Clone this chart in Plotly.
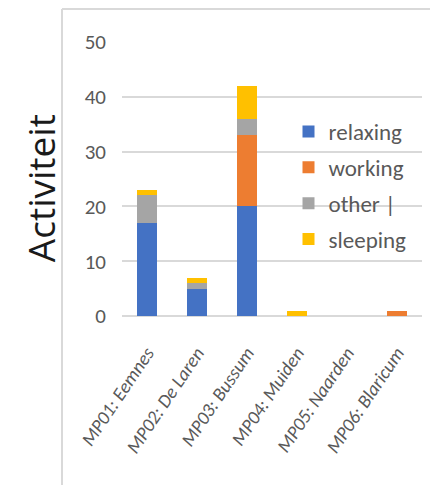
import plotly.graph_objects as go

# Activity counts per measuring point
locations = ["MP01: Eemnes", "MP02: De Laren", "MP03: Bussum",
             "MP04: Muiden", "MP05: Naarden", "MP06: Blaricum"]
relaxing = [17, 5, 20, 0, 0, 0]
working = [0, 0, 13, 0, 0, 1]
other = [5, 1, 3, 0, 0, 0]
sleeping = [1, 1, 6, 1, 0, 0]

series_names = ["relaxing", "working", "other |", "sleeping"]
series_values = [relaxing, working, other, sleeping]
series_colors = ["#4472C4", "#ED7D31", "#A5A5A5", "#FFC000"]

FONT = "Carlito, 'Liberation Sans Narrow', 'Open Sans', sans-serif"

fig = go.Figure()
for name, vals, col in zip(series_names, series_values, series_colors):
    fig.add_trace(go.Bar(
        x=locations, y=vals, name=name, marker_color=col,
        marker_line_width=0, legendgroup=name,
    ))

fig.update_layout(
    width=430, height=485,
    margin=dict(l=122, r=8, t=42, b=169),
    barmode="stack", bargap=0.6,
    paper_bgcolor="white", plot_bgcolor="white",
    font=dict(family=FONT, color="#595959"),
    showlegend=True,
    legend=dict(
        x=0.555, y=0.752, xanchor="left", yanchor="top",
        bgcolor="rgba(0,0,0,0)", traceorder="grouped", tracegroupgap=3,
        font=dict(size=23, color="#595959", family=FONT),
        itemwidth=30,
    ),
    xaxis=dict(
        tickangle=-56,
        tickfont=dict(size=19, color="#595959", style="italic"),
        ticklabelstandoff=21,
        showgrid=False, showline=False, ticks="",
    ),
    yaxis=dict(
        range=[0, 50], dtick=10,
        showgrid=True, gridcolor="#D9D9D9", gridwidth=1.5,
        zeroline=True, zerolinecolor="#D9D9D9", zerolinewidth=1.5,
        tickfont=dict(size=21, color="#595959"),
        ticklabelstandoff=15,
    ),
)

# axis title
fig.add_annotation(
    text="Activiteit", xref="paper", yref="paper",
    x=-0.273, y=0.467, xanchor="center", yanchor="middle",
    textangle=-90, showarrow=False,
    font=dict(size=37, color="#1a1a1a", family="'Open Sans', sans-serif"),
)

# chart frame (top and left edges)
fig.add_shape(type="line", xref="paper", yref="paper",
              x0=-0.2, x1=1.1, y0=1.12, y1=1.12,
              line=dict(color="#D9D9D9", width=2))
fig.add_shape(type="line", xref="paper", yref="paper",
              x0=-0.2, x1=-0.2, y0=1.12, y1=-0.7,
              line=dict(color="#D9D9D9", width=2))

fig.write_html("out.html")
